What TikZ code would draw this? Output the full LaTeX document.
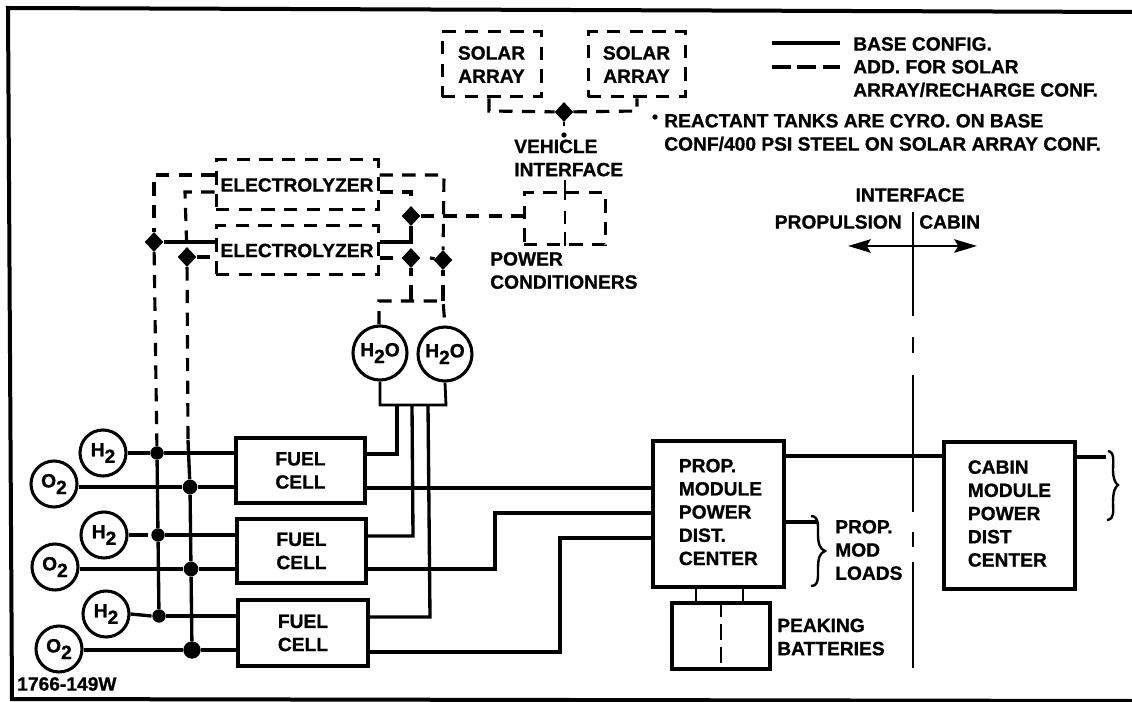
\documentclass[tikz,border=0pt]{standalone}
\usepackage{fontspec}
\setmainfont{Liberation Sans}[BoldFeatures={FakeBold=0.9}]
\usetikzlibrary{shapes.geometric,arrows.meta}
\newcommand\lowtwo{\raisebox{-0.65ex}{2}}
\tikzset{
  x=0.75pt,y=-0.75pt,
  wire/.style={line width=2.5pt,line join=miter},
  thin wire/.style={line width=2.1pt},
  dash wire/.style={line width=2.35pt,dash pattern=on 10pt off 7pt},
  bx/.style 2 args={draw,line width=2.3pt,minimum width=#1*0.75pt,minimum height=#2*0.75pt,inner sep=0pt,align=center,font=\lab},
  dbx/.style 2 args={bx={#1}{#2},line width=2.25pt,dash pattern=on 10pt off 7pt},
  lbl/.style={inner sep=0pt,align=left,anchor=west,font=\lab},
  ring/.style={draw,circle,line width=2.3pt,minimum size=#1*1.5pt,inner sep=0pt,font=\lab},
  jd/.style={diamond,fill=black,inner sep=0pt,minimum width=14pt,minimum height=15pt},
  jc/.style={circle,fill=black,inner sep=0pt,minimum size=#1pt},
}
\newcommand\lab{\bfseries\fontsize{14.4}{17.4}\selectfont}
\begin{document}
\begin{tikzpicture}
\useasboundingbox (0,0) rectangle (1132,702);
% frame
\coordinate (fa) at (8,8); \coordinate (fb) at (1132,12);
\coordinate (fc) at (12,699); \coordinate (fd) at (1132,701);
\draw[line width=3pt] (fb) -- (fa) -- (fc) -- (fd);

% solar arrays
\node[dbx={99}{65}] (sa1) at (491.5,64.5) {SOLAR\\ARRAY};
\node[dbx={97}{65}] (sa2) at (636.5,64.5) {SOLAR\\ARRAY};
\node[jd] (js) at (564,112) {};
\coordinate (sa1b) at (489,111); \coordinate (sa2b) at (637,111);
\draw[dash wire] (sa1.south -| sa1b) -- (sa1b) -- (js);
\draw[dash wire] (js) -- (sa2b) -- (sa2.south -| sa2b);

% power conditioners
\node[dbx={81}{52}] (pc) at (564.5,219) {};
\coordinate (vi) at (565,180);
\draw[wire,line width=2pt] (js) -- (564,126);
\node[jc=4] (vid) at (564,135) {};
\draw[wire,line width=2pt] (vi) -- (565,200);
\draw[line width=2pt] (565,211) -- (565,224);
\draw[line width=2pt] (565,232) -- (pc.south -| vi);
\node[lbl] (vit) at (514,158) {VEHICLE\\INTERFACE};
\node[lbl] (pct) at (490,270.5) {POWER\\CONDITIONERS};

% electrolyzers
\node[dbx={162}{50}] (el1) at (297,185) {ELECTROLYZER};
\node[dbx={162}{49}] (el2) at (297,250.5) {ELECTROLYZER};
\node[jd] (jl1) at (154,242) {};
\node[jd] (jl2) at (187,257) {};
\node[jd] (jr0) at (411,216) {};
\node[jd] (jr1) at (411,258) {};
\node[jd] (jr2) at (443,260) {};
\coordinate (ol) at (154,175); \coordinate (il) at (185,192);
\coordinate (or) at (444,175); \coordinate (ir) at (411,192);
\coordinate (ir2) at (411,242);
\draw[dash wire] (el1.west |- ol) -- (ol) -- (jl1);
\draw[dash wire] (el1.west |- il) -- (il) -- (jl2);
\draw[dash wire] (el1.east |- or) -- (or) -- (jr2);
\draw[dash wire] (el1.east |- ir) -- (ir) -- (jr0);
\draw[wire,line width=2.35pt] (jr0) -- (ir2) -- (el2.east |- ir2);
\draw[dash wire] (jr0) -- (pc.west |- jr0);
\draw[wire] (jl1) -- (el2.west |- jl1);
\draw[dash wire] (jl2) -- (el2.west |- jl2);
\draw[dash wire] (el2.east |- jr1) -- ++(13,0);
\draw[wire,line width=2.35pt] (jr2) -- ++(-13,-2);

% water tanks
\node[ring=27] (w1) at (380,353) {H\lowtwo O};
\node[ring=27] (w2) at (445,354) {H\lowtwo O};
\coordinate (t1) at (379,301); \coordinate (t2) at (443,301); \coordinate (t0) at (411,301);
\draw[wire] (jr1) -- (411,276);
\draw[wire] (411,285) -- (t0);
\draw[wire,line width=2.35pt] (jr2) -- (443,276);
\draw[wire,line width=2.35pt] (443,285) -- (t2);
\draw[dash wire] (w1.north -| t1) -- (t1) -- (t2) -- (w2.north);
\coordinate (m1) at (380,405); \coordinate (m2) at (446,405);
\draw[thin wire] (w1.south) -- (m1) -- (m2) -- (w2.south);

% fuel cells
\node[bx={129}{65}] (fc1) at (300.5,470.5) {FUEL\\CELL};
\node[bx={129}{64}] (fc2) at (301.5,551) {FUEL\\CELL};
\node[bx={130}{66}] (fc3) at (303,633) {FUEL\\CELL};
\coordinate (u1) at (397,454); \coordinate (u2) at (413,536); \coordinate (u3) at (430,617);
\coordinate (u1t) at (397,405); \coordinate (u2t) at (412,405); \coordinate (u3t) at (428,405);
\draw[wire] (fc1.east |- u1) -- (u1) -- (u1t);
\draw[wire] (fc2.east |- u2) -- (u2) -- (u2t);
\draw[wire] (fc3.east |- u3) -- (u3) -- (u3t);

% reactants
\node[ring=23] (h1) at (103,453) {H\lowtwo};
\node[ring=23] (h2) at (104,535) {H\lowtwo};
\node[ring=23] (h3) at (106,614) {H\lowtwo};
\node[ring=23] (o1) at (54,484) {O\lowtwo};
\node[ring=23] (o2) at (55,567) {O\lowtwo};
\node[ring=23] (o3) at (59,649) {O\lowtwo};
\node[jc=10] (b1) at (157,453) {};
\node[jc=10] (b2) at (158,535) {};
\node[jc=10] (b3) at (159,616) {};
\node[jc=11] (c1) at (190,487) {};
\node[jc=11] (c2) at (191,569) {};
\node[jc=13] (c3) at (192,650) {};
\draw[dash wire] (jl1) -- (b1);
\draw[dash wire] (jl2) -- (188,440);
\draw[wire] (188,440) -- (c1);
\draw[wire] (b1) -- (b2) -- (b3);
\draw[wire] (c1) -- (c2) -- (c3);
\draw[wire] (h1) -- (b1) -- (fc1.west |- b1);
\draw[wire] (h2.east) -- ++(19,0);
\draw[wire] (b2) -- (fc2.west |- b2);
\draw[wire] (h3.east) -- ++(21,2);
\draw[wire] (b3) -- (fc3.west |- b3);
\draw[wire] (o1.east |- c1) -- (c1) -- (fc1.west |- c1);
\draw[wire] (o2.east |- c2) -- (c2) -- (fc2.west |- c2);
\draw[wire] (o3.east |- c3) -- (c3) -- (fc3.west |- c3);

% power distribution
\node[bx={131}{146}] (pm) at (718.5,514) {\hspace{3pt}\begin{tabular}{@{}l@{}}PROP.\\MODULE\\POWER\\DIST.\\CENTER\end{tabular}};
\node[bx={131}{147}] (cm) at (1009.5,515.5) {\begin{tabular}{@{}l@{}}CABIN\\MODULE\\POWER\\DIST\\CENTER\end{tabular}};
\node[bx={98}{66}] (bt) at (721,636) {};
\coordinate (e1) at (495,569); \coordinate (e1t) at (495,513);
\coordinate (e2) at (560,652); \coordinate (e2t) at (560,538);
\coordinate (e0) at (653,488);
\draw[wire] (fc1.east |- e0) -- (e0);
\draw[wire] (fc2.east |- e1) -- (e1) -- (e1t) -- (pm.west |- e1t);
\draw[wire] (fc3.east |- e2) -- (e2) -- (e2t) -- (pm.west |- e2t);
\coordinate (l1) at (784,456);
\draw[wire] (l1) -- (cm.west |- l1);
\coordinate (co) at (1106,457);
\draw[wire] (cm.east |- co) -- (co);
\coordinate (po) at (817,522);
\draw[wire] (pm.east |- po) -- (po);
\coordinate (bl) at (696,603); \coordinate (br) at (743,603);
\draw[thin wire] (pm.south -| bl) -- (bl);
\draw[thin wire] (pm.south -| br) -- (br);
\draw[thin wire,dash pattern=on 12pt off 5pt] (bt.north) -- (bt.south);

% braces
\draw[line width=1.8pt] (811,516) .. controls (819,516) and (818,526) .. (818,534) .. controls (818,544) and (820,549) .. (825,551) .. controls (820,553) and (818,558) .. (818,568) .. controls (818,577) and (819,586) .. (811,586);
\draw[line width=1.8pt] (1108,451) .. controls (1115,452) and (1113,462) .. (1113,470) .. controls (1113,478) and (1115,483) .. (1118,485) .. controls (1115,487) and (1113,492) .. (1113,502) .. controls (1113,511) and (1115,519) .. (1107,520);

% text labels
\node[lbl] (ploads) at (835,550) {PROP.\\MOD\\LOADS};
\node[lbl] (peak) at (777,637) {PEAKING\\BATTERIES};
\node[lbl] (lg1) at (853,44) {BASE CONFIG.};
\node[lbl] (lg2) at (853,78.5) {ADD. FOR SOLAR\\ARRAY/RECHARGE CONF.};
\node[lbl] (note) at (664,132.5) {REACTANT TANKS ARE CYRO. ON BASE\\CONF/400 PSI STEEL ON SOLAR ARRAY CONF.};
\node[jc=4] (noted) at (655,117) {};
\node[lbl,anchor=center] (ift) at (910,195) {INTERFACE};
\node[lbl,anchor=east] (prop) at (902,222) {PROPULSION};
\node[lbl] (cab) at (919,222) {CABIN};
\node[lbl] (code) at (17,684) {1766-149W};

% legend samples
\coordinate (ls1) at (772,43); \coordinate (ls2) at (840,43);
\coordinate (ld1) at (772,67); \coordinate (ld2) at (840,67);
\draw[wire] (ls1) -- (ls2);
\draw[dash wire,line width=2.5pt,dash pattern=on 14pt off 5pt] (ld1) -- (ld2);

% interface
\coordinate (if0) at (913,212); \coordinate (if1) at (913,316);
\coordinate (if2) at (913,337); \coordinate (if3) at (913,353);
\coordinate (if4) at (913,375); \coordinate (if5) at (913,512);
\coordinate (if6) at (913,532); \coordinate (if7) at (913,547);
\coordinate (if8) at (913,562); \coordinate (if9) at (913,668);
\coordinate (al) at (848,246); \coordinate (ar) at (977,246);
\draw[line width=2.1pt] (if0) -- (if1);
\draw[line width=2.1pt] (if2) -- (if3);
\draw[line width=2.1pt] (if4) -- (if5);
\draw[line width=2.1pt] (if6) -- (if7);
\draw[line width=2.1pt] (if8) -- (if9);
\draw[line width=2.1pt,{Stealth[length=17pt,width=10pt,inset=3pt]}-{Stealth[length=17pt,width=10pt,inset=3pt]}] (al) -- (ar);
\end{tikzpicture}
\end{document}
